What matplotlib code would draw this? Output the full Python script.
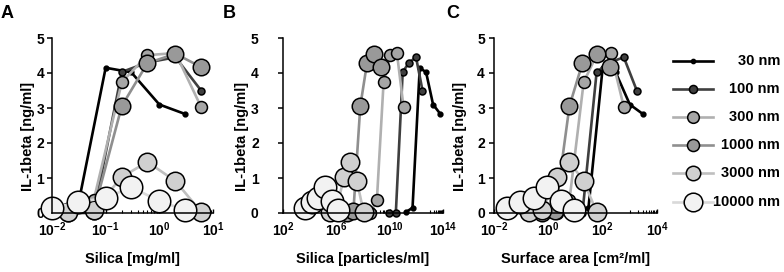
import matplotlib
matplotlib.use("Agg")
import matplotlib.pyplot as plt
from matplotlib.ticker import FixedLocator, NullFormatter

plt.rcParams.update({
    "font.family": "Liberation Sans",
    "font.weight": "bold",
    "axes.labelweight": "bold",
    "mathtext.fontset": "custom",
    "mathtext.rm": "Liberation Sans:bold",
    "mathtext.bf": "Liberation Sans:bold",
    "mathtext.it": "Liberation Sans:bold",
    "mathtext.default": "rm",
})

LABELS = ["30 nm", "100 nm", "300 nm", "1000 nm", "3000 nm", "10000 nm"]

# silica dose in mg/ml (two dilution series)
CONC_SET1 = [0.01, 0.03, 0.1, 0.3, 1, 3]
CONC_SET2 = [0.02, 0.06, 0.2, 0.6, 2, 6]

# IL-1beta response [ng/ml]
IL1B_30 = [0.02, 0.15, 4.15, 4.02, 3.10, 2.83]
IL1B_100 = [0.0, 0.0, 4.03, 4.30, 4.45, 3.50]
IL1B_300 = [0.0, 0.37, 3.74, 4.51, 4.57, 3.03]
IL1B_1000 = [0.0, 0.05, 3.06, 4.28, 4.55, 4.17]
IL1B_3000 = [0.02, 0.08, 1.03, 1.46, 0.91, 0.03]
IL1B_10000 = [0.14, 0.31, 0.43, 0.74, 0.34, 0.09]

# particles/ml
PART_30 = [1.6e11, 5.2e11, 1.8e12, 5.4e12, 1.8e13, 6.3e13]
PART_100 = [9.5e9, 2.9e10, 9.5e10, 2.9e11, 9.5e11, 2.9e12]
PART_300 = [3.5e8, 1.1e9, 3.5e9, 1.1e10, 3.5e10, 1.1e11]
PART_1000 = [6.3e6, 1.9e7, 6.3e7, 2.0e8, 6.3e8, 2.2e9]
PART_3000 = [3.5e5, 1.1e6, 3.5e6, 1.1e7, 3.5e7, 1.1e8]
PART_10000 = [4.5e3, 1.4e4, 4.5e4, 1.4e5, 4.5e5, 1.4e6]

# surface area cm2/ml
SURF_30 = [10, 30, 100, 300, 1000, 3000]
SURF_100 = [6, 18, 60, 180, 600, 1800]
SURF_300 = [2, 6, 20, 60, 200, 600]
SURF_1000 = [0.6, 1.8, 6, 18, 60, 180]
SURF_3000 = [0.2, 0.6, 2, 6, 20, 60]
SURF_10000 = [0.03, 0.09, 0.3, 0.9, 3, 9]

Y_SERIES = [IL1B_30, IL1B_100, IL1B_300, IL1B_1000, IL1B_3000, IL1B_10000]
X_MASS = [CONC_SET1, CONC_SET2, CONC_SET2, CONC_SET2, CONC_SET2, CONC_SET1]
X_PART = [PART_30, PART_100, PART_300, PART_1000, PART_3000, PART_10000]
X_SURF = [SURF_30, SURF_100, SURF_300, SURF_1000, SURF_3000, SURF_10000]

LINE_COLORS = ["#000000", "#3f3f3f", "#b0b0b0", "#8f8f8f", "#bfbfbf", "#d9d9d9"]
FACE_COLORS = ["#000000", "#3f3f3f", "#a6a6a6", "#999999", "#d0d0d0", "#f2f2f2"]
MARKER_SIZES = [3.4, 5.0, 8.6, 11.9, 13.3, 16.2]
LEGEND_SIZES = [3.0, 5.8, 8.4, 8.7, 10.4, 13.4]

W, H = 784, 272
fig = plt.figure(figsize=(W / 100, H / 100), dpi=100)


def px_axes(x0, x1, y_top, y_bot):
    return fig.add_axes([x0 / W, (H - y_bot) / H, (x1 - x0) / W, (y_bot - y_top) / H])


def style_axes(ax, xlim, majors, major_labels, minors, xlabel, ypad, ylab_x):
    ax.set_xscale("log")
    ax.set_xlim(*xlim)
    ax.set_ylim(0, 5)
    for s in ("top", "right"):
        ax.spines[s].set_visible(False)
    for s in ("left", "bottom"):
        ax.spines[s].set_linewidth(1.1)
    ax.xaxis.set_major_locator(FixedLocator(majors))
    ax.set_xticklabels(major_labels)
    ax.xaxis.set_minor_locator(FixedLocator(minors))
    ax.xaxis.set_minor_formatter(NullFormatter())
    ax.set_yticks(range(6))
    ax.tick_params(axis="y", direction="out", length=3.5, width=1.1, labelsize=10, pad=ypad)
    ax.tick_params(axis="x", which="major", direction="in", length=3, width=1,
                   labelsize=10, pad=5)
    ax.tick_params(axis="x", which="minor", direction="in", length=2.5, width=0.8)
    ax.set_xlabel(xlabel, fontsize=10.5)
    ax.xaxis.set_label_coords(0.5, -0.222)
    ax.set_ylabel("IL-1beta [ng/ml]", fontsize=10.5)
    ax.yaxis.set_label_coords(ylab_x, 0.44)


def draw(ax, xs_list):
    for xs, ys, lc, fc, ms in zip(xs_list, Y_SERIES, LINE_COLORS, FACE_COLORS, MARKER_SIZES):
        ax.plot(xs, ys, color=lc, lw=1.9, marker="o", ms=ms, mfc=fc, mec="black",
                mew=1.1, clip_on=False)


# panel A
axA = px_axes(52, 213, 38, 213)
draw(axA, X_MASS)
style_axes(axA, (1e-2, 1e1), [1e-2, 1e-1, 1e0, 1e1],
           [r"$10^{-2}$", r"$10^{-1}$", r"$10^{0}$", r"$10^{1}$"],
           [m * 10.0 ** d for d in (-2, -1, 0) for m in range(2, 10)],
           "Silica [mg/ml]", 2, -0.107)

# panel B
axB = px_axes(283, 443, 38, 213)
draw(axB, X_PART)
style_axes(axB, (1e2, 1e14), [1e2, 1e6, 1e10, 1e14],
           [r"$10^{2}$", r"$10^{6}$", r"$10^{10}$", r"$10^{14}$"],
           [m * 10.0 ** d for d in (5, 9, 13) for m in range(1, 10)],
           "Silica [particles/ml]", 14, -0.21)

# panel C
axC = px_axes(494, 657, 38, 213)
draw(axC, X_SURF)
style_axes(axC, (1e-2, 1e4), [1e-2, 1e0, 1e2, 1e4],
           [r"$10^{-2}$", r"$10^{0}$", r"$10^{2}$", r"$10^{4}$"],
           [m * 10.0 ** d for d in (-1, 1, 3) for m in range(1, 10)],
           "Surface area [cm²/ml]", 3, -0.165)

for letter, xp in (("A", 1), ("B", 223), ("C", 446)):
    fig.text(xp / W, 1 - 5 / H, letter, fontsize=13, fontweight="bold", va="top", ha="left")

# legend, drawn in a pixel-coordinate axes on the right
axL = fig.add_axes([0, 0, 1, 1], facecolor="none")
axL.set_xlim(0, W)
axL.set_ylim(H, 0)
axL.axis("off")
rows = [61, 89, 117, 145, 173, 202]
for lab, yr, lc, fc, ms in zip(LABELS, rows, LINE_COLORS, FACE_COLORS, LEGEND_SIZES):
    axL.plot([673, 713], [yr, yr], color=lc, lw=1.9)
    axL.plot([693], [yr], marker="o", ms=ms, mfc=fc, mec="black", mew=1.1, color=lc)
    axL.text(780, yr, lab, fontsize=10.5, fontweight="bold", ha="right", va="center")

fig.savefig("out.png", dpi=100)
